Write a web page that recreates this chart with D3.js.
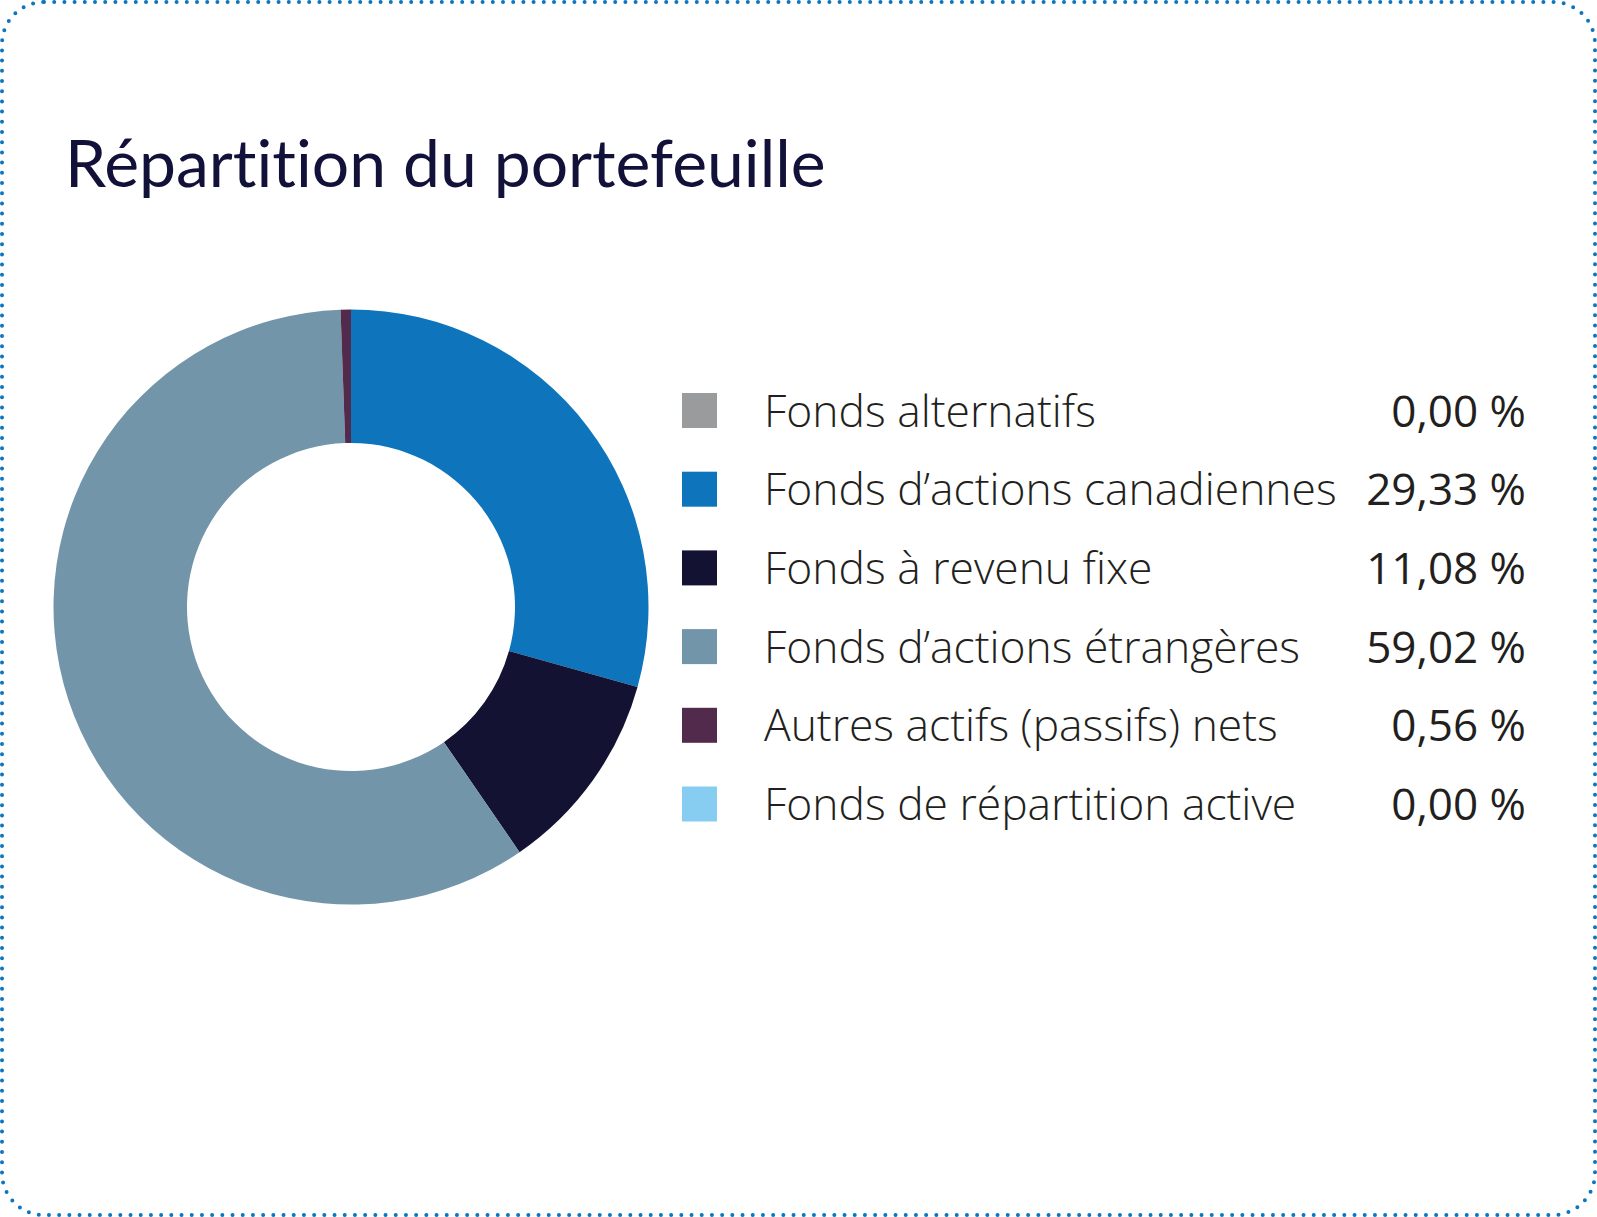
<!DOCTYPE html>
<html><head><meta charset="utf-8">
<script src="https://cdn.jsdelivr.net/npm/d3@7/dist/d3.min.js"></script>
<style>html,body{margin:0;padding:0;background:#fff;} text{font-variant-ligatures:none;font-feature-settings:"liga" 0;}</style>
</head><body>
<svg id="chart" width="1597" height="1217"></svg>
<script>
const categories = ["Fonds alternatifs","Fonds d’actions canadiennes","Fonds à revenu fixe","Fonds d’actions étrangères","Autres actifs (passifs) nets","Fonds de répartition active"];
const values = [0.00, 29.33, 11.08, 59.02, 0.56, 0.00];
const valueLabels = ["0,00 %","29,33 %","11,08 %","59,02 %","0,56 %","0,00 %"];
const colors = ["#9a9b9d","#0e75bd","#131232","#7295aa","#522a4b","#87cdf1"];
const title = "Répartition du portefeuille";

const svg = d3.select("#chart");
svg.append("rect").attr("x",2).attr("y",2).attr("width",1593).attr("height",1213)
  .attr("rx",42).attr("ry",42).attr("fill","none").attr("stroke","#0e75bd")
  .attr("stroke-width",4).attr("stroke-linecap","round").attr("stroke-dasharray","0 10.2");

svg.append("text").attr("x",65).attr("y",187).attr("fill","#12113a")
  .attr("font-family","Lato, 'Noto Sans', sans-serif").attr("font-size",66).text(title);

const data = categories.map((c,i)=>({name:c,value:values[i],label:valueLabels[i],color:colors[i]}));
const pie = d3.pie().sort(null).value(d=>d.value);
const arc = d3.arc().innerRadius(164).outerRadius(297.5);
const g = svg.append("g").attr("transform","translate(351,607)");
g.selectAll("path").data(pie(data)).join("path").attr("d",arc).attr("fill",d=>d.data.color);

const y = d3.scalePoint().domain(categories).range([410.5, 804]);
const rows = svg.append("g").selectAll("g").data(data).join("g").attr("transform",d=>`translate(0,${y(d.name)})`);
rows.append("rect").attr("x",682).attr("y",-17.5).attr("width",35).attr("height",35).attr("fill",d=>d.color);
rows.append("text").attr("x",764).attr("y",16).attr("fill","#231f20")
  .attr("font-family","'Open Sans', sans-serif").attr("font-weight",300).attr("font-size",44.4).text(d=>d.name);
rows.append("text").attr("x",1526).attr("y",16).attr("text-anchor","end").attr("fill","#231f20")
  .attr("font-family","'Open Sans', sans-serif").attr("font-weight",400).attr("font-size",44).text(d=>d.label);
</script>
</body></html>
